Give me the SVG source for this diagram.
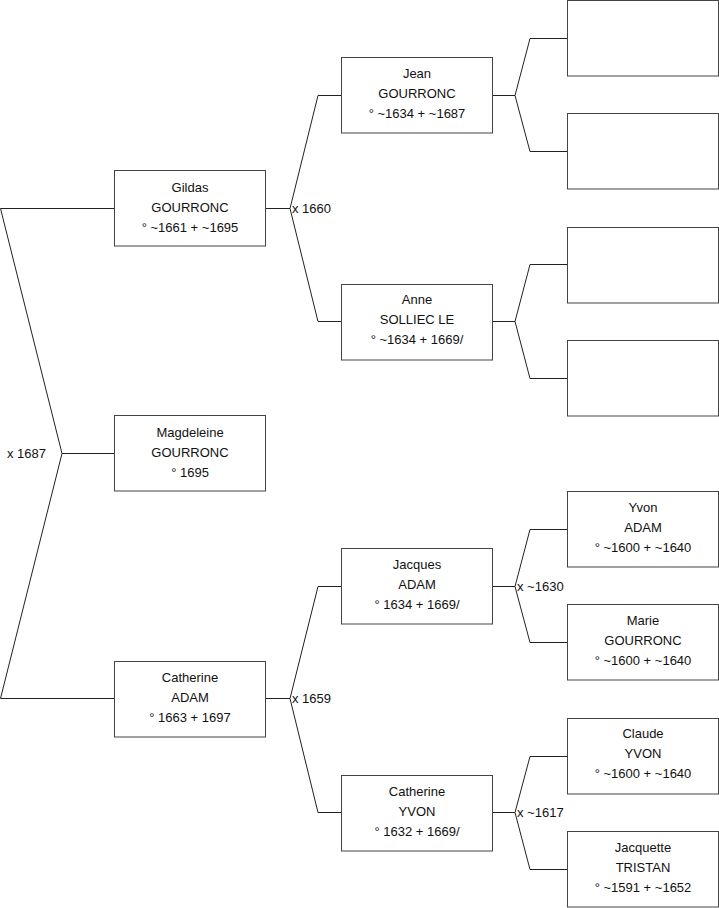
<svg xmlns="http://www.w3.org/2000/svg" width="719" height="908" viewBox="0 0 719 908">
<style>
.b{fill:#fff;stroke:#444;stroke-width:1}
.c{fill:none;stroke:#222;stroke-width:1}
text{font-family:"Liberation Sans",Arial,sans-serif;font-size:13px;fill:#111}
.m{text-anchor:middle}
</style>
<rect width="719" height="908" fill="#fff"/>
<g id="connectors">
<path class="c" d="M0.5,208.5H114 M0.5,208.5L62,453.5L0.5,698.5H114 M62,453.5H114"/>
<path class="c" d="M265,208.5H290 M318,95.5L290,208.5L318,321.5 M318,95.5H341 M318,321.5H341"/>
<path class="c" d="M265,698.5H290 M318,586.5L290,698.5L318,812.5 M318,586.5H341 M318,812.5H341"/>
<path class="c" d="M492,95.5H515 M530,38.5L515,95.5L530,151.5 M530,38.5H567 M530,151.5H567"/>
<path class="c" d="M492,321.5H515 M530,264.5L515,321.5L530,378.5 M530,264.5H567 M530,378.5H567"/>
<path class="c" d="M492,586.5H515 M530,529.5L515,586.5L530,642.5 M530,529.5H567 M530,642.5H567"/>
<path class="c" d="M492,812.5H515 M530,756.5L515,812.5L530,869.5 M530,756.5H567 M530,869.5H567"/>
<text x="7" y="458">x 1687</text>
<text x="292" y="213">x 1660</text>
<text x="292" y="703">x 1659</text>
<text x="517" y="591">x ~1630</text>
<text x="517" y="817">x ~1617</text>
</g>
<g id="gildas"><rect class="b" x="114.5" y="170.5" width="151" height="75.5"/><text class="m" x="190" y="192">Gildas</text><text class="m" x="190" y="212">GOURRONC</text><text class="m" x="190" y="232">° ~1661 + ~1695</text></g>
<g id="magdeleine"><rect class="b" x="114.5" y="415.5" width="151" height="75.5"/><text class="m" x="190" y="437">Magdeleine</text><text class="m" x="190" y="457">GOURRONC</text><text class="m" x="190" y="477">° 1695</text></g>
<g id="catherine-adam"><rect class="b" x="114.5" y="661.5" width="151" height="75.5"/><text class="m" x="190" y="682">Catherine</text><text class="m" x="190" y="702">ADAM</text><text class="m" x="190" y="722">° 1663 + 1697</text></g>
<g id="jean"><rect class="b" x="341.5" y="57.5" width="151" height="75.5"/><text class="m" x="417" y="78">Jean</text><text class="m" x="417" y="98">GOURRONC</text><text class="m" x="417" y="118">° ~1634 + ~1687</text></g>
<g id="anne"><rect class="b" x="341.5" y="284.5" width="151" height="75.5"/><text class="m" x="417" y="304">Anne</text><text class="m" x="417" y="324">SOLLIEC LE</text><text class="m" x="417" y="344">° ~1634 + 1669/</text></g>
<g id="jacques"><rect class="b" x="341.5" y="548.5" width="151" height="75.5"/><text class="m" x="417" y="569">Jacques</text><text class="m" x="417" y="589">ADAM</text><text class="m" x="417" y="609">° 1634 + 1669/</text></g>
<g id="catherine-yvon"><rect class="b" x="341.5" y="775.5" width="151" height="75.5"/><text class="m" x="417" y="796">Catherine</text><text class="m" x="417" y="816">YVON</text><text class="m" x="417" y="836">° 1632 + 1669/</text></g>
<g id="empty1"><rect class="b" x="567.5" y="0.5" width="151" height="75.5"/></g>
<g id="empty2"><rect class="b" x="567.5" y="113.5" width="151" height="75.5"/></g>
<g id="empty3"><rect class="b" x="567.5" y="227.5" width="151" height="75.5"/></g>
<g id="empty4"><rect class="b" x="567.5" y="340.5" width="151" height="75.5"/></g>
<g id="yvon"><rect class="b" x="567.5" y="491.5" width="151" height="75.5"/><text class="m" x="643" y="512">Yvon</text><text class="m" x="643" y="532">ADAM</text><text class="m" x="643" y="552">° ~1600 + ~1640</text></g>
<g id="marie"><rect class="b" x="567.5" y="604.5" width="151" height="75.5"/><text class="m" x="643" y="625">Marie</text><text class="m" x="643" y="645">GOURRONC</text><text class="m" x="643" y="665">° ~1600 + ~1640</text></g>
<g id="claude"><rect class="b" x="567.5" y="718.5" width="151" height="75.5"/><text class="m" x="643" y="738">Claude</text><text class="m" x="643" y="758">YVON</text><text class="m" x="643" y="778">° ~1600 + ~1640</text></g>
<g id="jacquette"><rect class="b" x="567.5" y="831.5" width="151" height="75.5"/><text class="m" x="643" y="852">Jacquette</text><text class="m" x="643" y="872">TRISTAN</text><text class="m" x="643" y="892">° ~1591 + ~1652</text></g>
</svg>
